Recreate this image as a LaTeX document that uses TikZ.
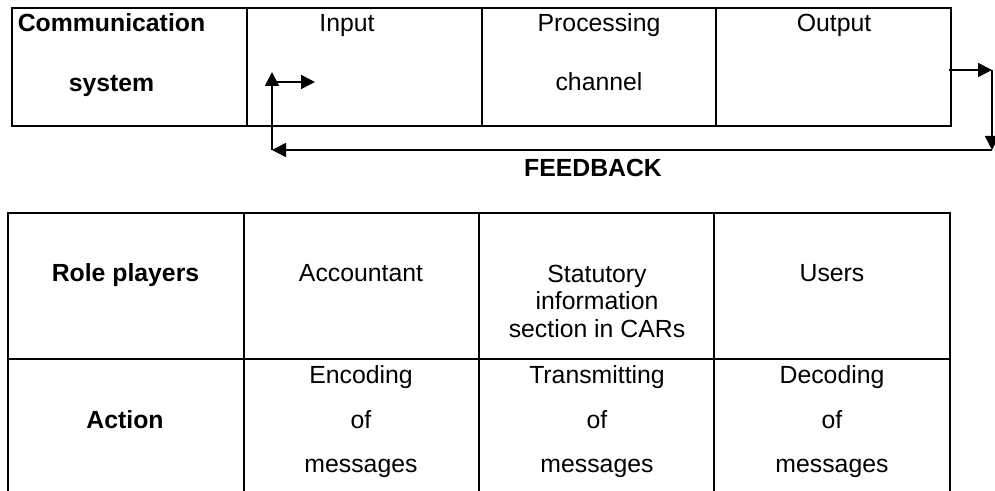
\documentclass[tikz,border=0pt]{standalone}
\usepackage{fontspec}
\setmainfont{Liberation Sans}
\usetikzlibrary{arrows.meta}

\begin{document}
\begin{tikzpicture}[x=0.5pt,y=-0.5pt,>={Triangle[length=7pt,width=7pt]},
    txt/.style={anchor=base,inner sep=0pt,font=\fontsize{12.4}{14}\selectfont},
    hd/.style={txt,font=\fontsize{12.4}{14}\selectfont\bfseries},
    grid/.style={line width=1pt},
    fb/.style={->,line width=0.8pt}]
    \useasboundingbox (0,0) rectangle (995,491);
    % communication system
    \draw[grid] (12,8) rectangle (951,126);
    \foreach \x in {247,482,716} \draw[grid] (\x,8) -- (\x,126);
    \node[hd] (comm) at (111.5,32) {Communication};
    \node[hd] (syst) at (111.5,91.5) {system};
    \node[txt] (input) at (347,32) {Input};
    \node[txt] (proc) at (599,32) {Processing};
    \node[txt] (chan) at (599,90.5) {channel};
    \node[txt] (output) at (834,32) {Output};
    % feedback loop
    \coordinate (outR) at (949,70);
    \coordinate (corA) at (992,70);
    \coordinate (corB) at (992,150);
    \coordinate (corC) at (272,150);
    \coordinate (inUp) at (272,72);
    \coordinate (inL) at (272,82);
    \coordinate (inR) at (315,82);
    \draw[fb] (outR) -- (corA);
    \draw[fb] (corA) -- (corB);
    \draw[fb] (corB) -- (corC);
    \draw[fb] (corC) -- (inUp);
    \draw[fb] (inL) -- (inR);
    \node[hd] (feed) at (593,177) {FEEDBACK};
    % role players
    \draw[grid] (8,491) -- (8,213) -- (950,213) -- (950,491);
    \draw[grid] (8,359) -- (950,359);
    \foreach \x in {244,479,714} \draw[grid] (\x,213) -- (\x,491);
    \node[hd] (role) at (125.5,282) {Role players};
    \node[txt] (acc) at (361,282) {Accountant};
    \node[txt,align=center] (stat) at (597,338) {Statutory\\information\\section in CARs};
    \node[txt] (users) at (832,282) {Users};
    % action
    \node[hd] (act) at (125,428) {Action};
    \node[txt] (enc) at (361,384) {Encoding};
    \node[txt] (enc2) at (361,428) {of};
    \node[txt] (enc3) at (361,472) {messages};
    \node[txt] (tra) at (597,384) {Transmitting};
    \node[txt] (tra2) at (597,428) {of};
    \node[txt] (tra3) at (597,472) {messages};
    \node[txt] (dec) at (832,384) {Decoding};
    \node[txt] (dec2) at (832,428) {of};
    \node[txt] (dec3) at (832,472) {messages};
\end{tikzpicture}
\end{document}
